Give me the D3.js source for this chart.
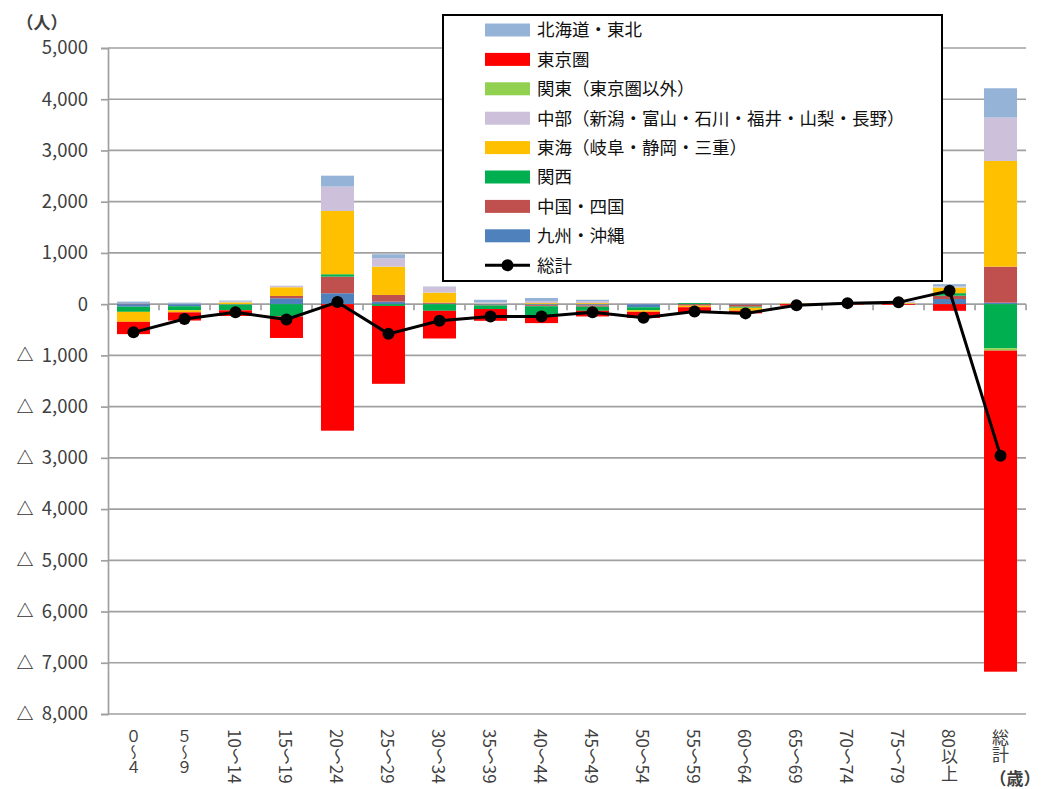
<!DOCTYPE html>
<html><head><meta charset="utf-8">
<script src="https://cdn.jsdelivr.net/npm/d3@7"></script>
<style>
html,body{margin:0;padding:0;background:#fff;}
svg{display:block;font-family:"Noto Sans CJK JP","Noto Sans",sans-serif;}
.vlab{writing-mode:vertical-rl;text-orientation:mixed;}
</style></head>
<body>
<svg id="chart" width="1041" height="789"></svg>
<script>
const categories = ["０～４","５～９","10～14","15～19","20～24","25～29","30～34","35～39","40～44","45～49","50～54","55～59","60～64","65～69","70～74","75～79","80以上","総計"];
const seriesNames = ["北海道・東北","東京圏","関東（東京圏以外）","中部（新潟・富山・石川・福井・山梨・長野）","東海（岐阜・静岡・三重）","関西","中国・四国","九州・沖縄"];
const seriesColors = ["#95b3d7","#ff0000","#92d050","#ccc0da","#ffc000","#00b050","#c0504d","#4f81bd"];
const hokkaidoTohoku = [40,20,15,0,214,78,5,50,60,30,0,0,0,0,10,10,45,572];
const tokyoken      = [-240,-160,-110,-420,-2470,-1520,-540,-230,-120,-110,-120,-100,-50,-30,-10,-15,-130,-6267];
const kantoOther    = [0,0,0,0,0,0,0,0,0,0,0,0,0,0,0,0,0,-47];
const chubu         = [0,10,20,30,475,164,115,25,40,35,10,0,0,0,10,20,20,847];
const tokai         = [-195,-40,35,170,1235,552,195,10,20,20,-30,-30,-60,10,10,15,110,2063];
const kansai        = [-100,-80,-110,-240,47,-35,-130,-70,-210,-80,-60,20,-20,0,0,0,50,-860];
const chugokuShikoku= [10,0,0,45,324,131,20,-10,-20,-25,0,-30,-40,0,0,5,65,703];
const kyushuOkinawa = [-50,-40,-10,115,213,49,10,-15,-20,-25,-60,0,-10,0,0,0,100,29];
const totals        = [-550,-290,-160,-300,40,-580,-325,-240,-240,-160,-265,-145,-180,-20,20,35,260,-2960];
const yTicks = [5000,4000,3000,2000,1000,0,-1000,-2000,-3000,-4000,-5000,-6000,-7000,-8000];

const seriesValues = [hokkaidoTohoku,tokyoken,kantoOther,chubu,tokai,kansai,chugokuShikoku,kyushuOkinawa];
const stackKeys = d3.range(seriesNames.length).reverse().map(i=>seriesNames[i]);
const rows = categories.map((c,j)=>{const r={cat:c}; seriesNames.forEach((n,i)=>r[n]=seriesValues[i][j]); return r;});

const svg = d3.select("#chart");
const pL=108, pR=1026, pT=48, pB=714;
const x = d3.scaleBand().domain(categories).range([pL,pR]).paddingInner(0.353).paddingOuter(0.176);
const y = d3.scaleLinear().domain([-8000,5000]).range([pB,pT]);
const gridC = "#a0a0a0";

svg.append("g").selectAll("line").data(yTicks).join("line")
  .attr("x1",pL).attr("x2",pR).attr("y1",d=>y(d)).attr("y2",d=>y(d))
  .attr("stroke",d=>d===0?"none":gridC).attr("stroke-width",1.7);

const yAxis = d3.axisLeft(y).tickValues(yTicks).tickSize(7).tickPadding(13)
  .tickFormat(d=> d3.format(",")(Math.abs(d)));
const gy = svg.append("g").attr("transform",`translate(${pL},0)`).call(yAxis);
gy.select(".domain").attr("stroke",gridC).attr("stroke-width",1.7);
gy.selectAll(".tick line").attr("stroke",gridC).attr("stroke-width",1.7);
gy.selectAll(".tick text").attr("fill","#404040").style("font-size","18.5px").style("font-family","'Noto Sans CJK JP'");
gy.selectAll(".tick").filter(d=>d<0).append("text")
  .attr("x",25-pL).attr("dy","0.32em").attr("text-anchor","middle").attr("fill","#333")
  .style("font-size","17px").style("font-family","'Noto Sans CJK JP'").style("font-weight","bold").text("△");

const gx = svg.append("g");
gx.append("line").attr("x1",pL).attr("x2",pR).attr("y1",y(0)).attr("y2",y(0)).attr("stroke",gridC).attr("stroke-width",1.7);
gx.selectAll("line.t").data(d3.range(categories.length+1)).join("line").attr("class","t")
  .attr("x1",i=>pL+i*x.step()).attr("x2",i=>pL+i*x.step())
  .attr("y1",y(0)).attr("y2",y(0)+6).attr("stroke",gridC).attr("stroke-width",1.7);

const stacked = d3.stack().keys(stackKeys).offset(d3.stackOffsetDiverging)(rows);
svg.append("g").selectAll("g").data(stacked).join("g")
  .attr("fill",s=>seriesColors[seriesNames.indexOf(s.key)])
  .selectAll("rect").data(s=>s).join("rect")
  .attr("x",d=>x(d.data.cat)).attr("width",x.bandwidth())
  .attr("y",d=>y(Math.max(d[0],d[1]))).attr("height",d=>Math.abs(y(d[0])-y(d[1])));

const cx = c=>x(c)+x.bandwidth()/2;
svg.append("path").datum(categories.map((c,i)=>[cx(c),y(totals[i])]))
  .attr("d",d3.line()).attr("fill","none").attr("stroke","#000").attr("stroke-width",3);
svg.append("g").selectAll("circle").data(categories).join("circle")
  .attr("cx",c=>cx(c)).attr("cy",(c,i)=>y(totals[i])).attr("r",6).attr("fill","#000");

svg.append("g").selectAll("text").data(categories).join("text")
  .attr("class","vlab").attr("x",c=>cx(c)).attr("y",729)
  .attr("fill","#404040").style("font-size",c=>/^[０-９]/.test(c)?"15.5px":"17px").text(c=>c);
svg.append("text").attr("x",1015).attr("y",785).attr("text-anchor","middle")
  .attr("fill","#404040").style("font-size","17px").style("font-weight","bold").text("（歳）");
svg.append("text").attr("x",42).attr("y",29).attr("text-anchor","middle")
  .attr("fill","#404040").style("font-size","17px").style("font-weight","bold").text("（人）");

const lg = svg.append("g");
lg.append("rect").attr("x",443).attr("y",15).attr("width",499).attr("height",266)
  .attr("fill","#fff").attr("stroke","#000").attr("stroke-width",2);
const rowY = i=>30+i*29.4;
seriesNames.forEach((n,i)=>{
  lg.append("rect").attr("x",485).attr("y",rowY(i)-6.5).attr("width",45).attr("height",13).attr("fill",seriesColors[i]);
  lg.append("text").attr("x",537).attr("y",rowY(i)).attr("dy","0.36em").attr("fill","#111")
    .style("font-size","17.5px").text(n);
});
const li = seriesNames.length;
lg.append("line").attr("x1",485).attr("x2",530).attr("y1",rowY(li)).attr("y2",rowY(li)).attr("stroke","#000").attr("stroke-width",3);
lg.append("circle").attr("cx",507.5).attr("cy",rowY(li)).attr("r",6).attr("fill","#000");
lg.append("text").attr("x",537).attr("y",rowY(li)).attr("dy","0.36em").attr("fill","#111").style("font-size","17.5px").text("総計");
</script>
</body></html>
